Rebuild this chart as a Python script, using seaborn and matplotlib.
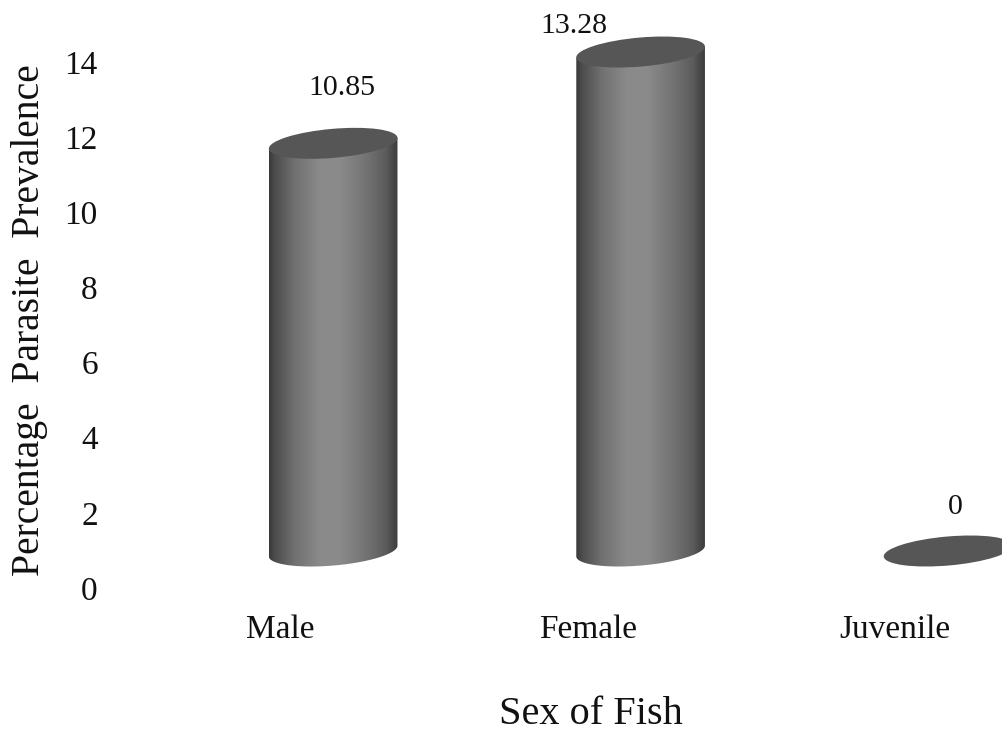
import numpy as np
import matplotlib
matplotlib.use("Agg")
import matplotlib.pyplot as plt
import seaborn as sns
import pandas as pd
from matplotlib.patches import Ellipse, PathPatch
from matplotlib.path import Path
from matplotlib.transforms import ScaledTranslation, IdentityTransform
from matplotlib.colors import LinearSegmentedColormap

# ---- data ----
categories = ["Male", "Female", "Juvenile"]
prevalence = [10.85, 13.28, 0]
value_labels = ["10.85", "13.28", "0"]
y_ticks = [0, 2, 4, 6, 8, 10, 12, 14]

# ---- style ----
sns.set_theme(style="white")
plt.rcParams["font.family"] = ["Liberation Serif", "DejaVu Serif"]

DPI = 100
fig = plt.figure(figsize=(10.03, 7.34), dpi=DPI)
ax = fig.add_axes([0.1107, 1 - 588 / 734, 0.8893, 563.6 / 734])

df = pd.DataFrame({"sex": categories, "prevalence": prevalence})
sns.barplot(data=df, x="sex", y="prevalence", order=categories,
            width=0.42, color="#777777", ax=ax)

ax.set_xlim(-0.55, 2.351)
ax.set_ylim(0, 15)
ax.set_yticks(y_ticks)
ax.set_yticklabels([str(t) for t in y_ticks])
sns.despine(ax=ax, left=True, bottom=True)
ax.grid(False)
ax.tick_params(axis="y", length=0, labelsize=24, pad=9.5, colors="#111111")
ax.tick_params(axis="x", length=0, labelsize=24, pad=19, colors="#111111")
ax.set_xlabel("")
ax.set_ylabel("")

# 3-D depth: the cylinders stand behind the front axis plane
depth_px = (53, 37)
depth = ax.transData + ScaledTranslation(depth_px[0] / DPI, depth_px[1] / DPI,
                                         fig.dpi_scale_trans)

# cylinder body shading (left to right)
shade = LinearSegmentedColormap.from_list("cyl", [
    (0.00, "#3a3a3a"), (0.05, "#4e4e4e"), (0.20, "#717171"),
    (0.40, "#8b8b8b"), (0.55, "#8a8a8a"), (0.75, "#737373"),
    (0.90, "#5c5c5c"), (0.96, "#474747"), (1.00, "#3a3a3a")])

tilt = 5.0            # degrees
cap_minor = 14.5      # half height of the elliptical caps, px
cap_color = "#565656"

bars = list(ax.patches)
label_offsets = [(6, 40), (-48, 19), (5, 32)]   # points

def rot(v, deg):
    t = np.deg2rad(deg)
    c, s = np.cos(t), np.sin(t)
    return np.array([c * v[0] - s * v[1], s * v[0] + c * v[1]])

for bar, val, lab, off in zip(bars, prevalence, value_labels, label_offsets):
    bar.set_visible(False)
    x0, w, h = bar.get_x(), bar.get_width(), bar.get_height()
    xc = x0 + w / 2
    p_left_bot = depth.transform((x0, 0))
    p_right_bot = depth.transform((x0 + w, 0))
    bot_c = (p_left_bot + p_right_bot) / 2
    top_c = depth.transform((xc, h))
    a = (p_right_bot[0] - p_left_bot[0]) / 2

    if h > 0:
        # outline: straight sides + lower half of the base ellipse
        verts = [top_c + rot((-a, 0), tilt), bot_c + rot((-a, 0), tilt)]
        for t in np.linspace(np.pi, 2 * np.pi, 60):
            verts.append(bot_c + rot((a * np.cos(t), cap_minor * np.sin(t)), tilt))
        verts.append(top_c + rot((a, 0), tilt))
        verts.append(verts[0])
        body = PathPatch(Path(np.array(verts)), transform=IdentityTransform(),
                         facecolor="none", edgecolor="none")
        grad = np.linspace(0, 1, 256).reshape(1, -1)
        im = ax.imshow(grad, cmap=shade, aspect="auto", interpolation="bilinear",
                       extent=[x0, x0 + w, -2, h + 2], transform=depth,
                       zorder=2)
        im.set_clip_path(body)

    cap = Ellipse(top_c, 2 * a, 2 * cap_minor, angle=tilt,
                  transform=IdentityTransform(), facecolor=cap_color,
                  edgecolor="none", zorder=3)
    ax.add_artist(cap)

    ax.annotate(lab, xy=(xc, h), xycoords=depth, xytext=off,
                textcoords="offset points", ha="center", va="center",
                fontsize=21.5, color="#111111", annotation_clip=False)

ax.set_xlim(-0.55, 2.351)
ax.set_ylim(0, 15)

fig.text(30 / 1003, 1 - 320 / 734, "Percentage  Parasite  Prevalence",
         rotation=90, ha="center", va="center", fontsize=28.5, color="#111111")
fig.text(591 / 1003, 1 - 715 / 734, "Sex of Fish", ha="center", va="center",
         fontsize=29, color="#111111")

fig.savefig("out.png", dpi=DPI)
